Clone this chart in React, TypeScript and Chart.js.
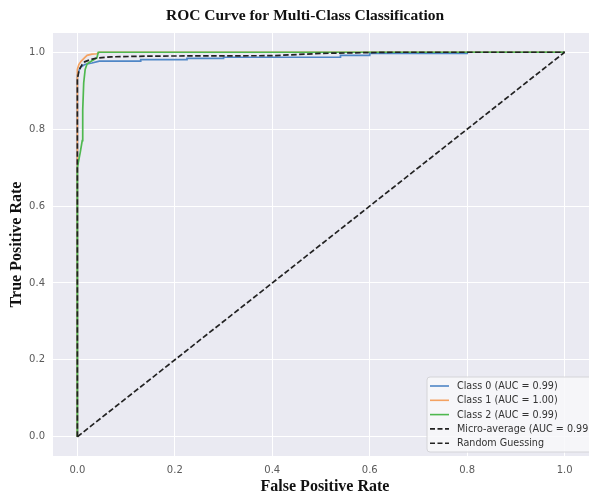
import React, { useEffect, useRef } from "react";
import { Chart, registerables } from "chart.js";

Chart.register(...registerables);

const class0Fpr = [0, 0, 0.004, 0.008, 0.015, 0.03, 0.045, 0.13, 0.13, 0.225, 0.225, 0.3, 0.3, 0.54, 0.54, 0.6, 0.6, 0.8, 0.8, 1.0];
const class0Tpr = [0, 0.94, 0.955, 0.962, 0.968, 0.972, 0.977, 0.977, 0.981, 0.981, 0.984, 0.984, 0.987, 0.987, 0.992, 0.992, 0.997, 0.997, 1.0, 1.0];

const class1Fpr = [0, 0, 0.003, 0.008, 0.015, 0.02, 0.03, 0.04, 0.045, 1.0];
const class1Tpr = [0, 0.955, 0.968, 0.977, 0.986, 0.992, 0.995, 0.996, 1.0, 1.0];

const class2Fpr = [0, 0, 0.006, 0.01, 0.011, 0.013, 0.016, 0.02, 0.03, 0.04, 0.043, 1.0];
const class2Tpr = [0, 0.7, 0.74, 0.77, 0.85, 0.92, 0.955, 0.97, 0.978, 0.985, 1.0, 1.0];

const microFpr = [0, 0, 0.003, 0.006, 0.01, 0.015, 0.025, 0.04, 0.07, 0.15, 0.4, 0.5, 0.65, 1.0];
const microTpr = [0, 0.93, 0.95, 0.96, 0.968, 0.975, 0.98, 0.985, 0.988, 0.99, 0.991, 0.997, 1.0, 1.0];

const randomFpr = [0, 1];
const randomTpr = [0, 1];

const xTicks = [0, 0.2, 0.4, 0.6, 0.8, 1.0];
const yTicks = [0, 0.2, 0.4, 0.6, 0.8, 1.0];

const legendLabels = [
  "Class 0 (AUC = 0.99)",
  "Class 1 (AUC = 1.00)",
  "Class 2 (AUC = 0.99)",
  "Micro-average (AUC = 0.99)",
  "Random Guessing",
];

const BLUE = "#4f86c6";
const ORANGE = "#f4a262";
const GREEN = "#4fb84f";
const BLACK = "#222222";

const pts = (xs: number[], ys: number[]) => xs.map((x, i) => ({ x, y: ys[i] }));

export default function App() {
  const ref = useRef<HTMLCanvasElement | null>(null);

  useEffect(() => {
    document.body.style.margin = "0";
    const canvas = ref.current;
    if (!canvas) return;

    const bgPlugin = {
      id: "bg",
      beforeDraw(chart: any) {
        const { ctx, chartArea } = chart;
        ctx.save();
        ctx.fillStyle = "#eaeaf2";
        ctx.fillRect(chartArea.left, chartArea.top, chartArea.right - chartArea.left, chartArea.bottom - chartArea.top);
        ctx.restore();
      },
    };

    const textPlugin = {
      id: "texts",
      afterDraw(chart: any) {
        const { ctx, chartArea } = chart;
        ctx.save();
        ctx.fillStyle = "#111";
        ctx.textAlign = "center";
        ctx.textBaseline = "middle";
        ctx.font = "bold 15.5px 'Liberation Serif', serif";
        ctx.fillText("ROC Curve for Multi-Class Classification", 305, 16);
        ctx.font = "bold 16px 'Liberation Serif', serif";
        ctx.fillText("False Positive Rate", 325, 487);
        ctx.save();
        ctx.translate(17, (chartArea.top + chartArea.bottom) / 2);
        ctx.rotate(-Math.PI / 2);
        ctx.fillText("True Positive Rate", 0, 0);
        ctx.restore();

        // legend
        const colors = [BLUE, ORANGE, GREEN, BLACK, BLACK];
        const dashed = [false, false, false, true, true];
        const bx = 427, by = 377, bw = 200, bh = 75;
        ctx.beginPath();
        const r = 3;
        ctx.moveTo(bx + r, by);
        ctx.lineTo(bx + bw, by);
        ctx.lineTo(bx + bw, by + bh);
        ctx.lineTo(bx + r, by + bh);
        ctx.arcTo(bx, by + bh, bx, by + bh - r, r);
        ctx.lineTo(bx, by + r);
        ctx.arcTo(bx, by, bx + r, by, r);
        ctx.closePath();
        ctx.fillStyle = "rgba(248,248,250,0.85)";
        ctx.fill();
        ctx.strokeStyle = "#d4d4d8";
        ctx.lineWidth = 1;
        ctx.stroke();
        ctx.font = "9.6px 'DejaVu Sans', sans-serif";
        ctx.textAlign = "left";
        legendLabels.forEach((lbl, i) => {
          const y = 386 + i * 14.3;
          ctx.beginPath();
          ctx.setLineDash(dashed[i] ? [5, 2.5] : []);
          ctx.strokeStyle = colors[i];
          ctx.lineWidth = 1.6;
          ctx.moveTo(430, y);
          ctx.lineTo(449, y);
          ctx.stroke();
          ctx.setLineDash([]);
          ctx.fillStyle = "#333";
          ctx.fillText(lbl, 457, y + 0.5);
        });
        ctx.restore();
      },
    };

    const mk = (label: string, xs: number[], ys: number[], color: string, dash: number[], order: number) => ({
      label,
      data: pts(xs, ys),
      showLine: true,
      borderColor: color,
      backgroundColor: color,
      borderWidth: 1.7,
      borderDash: dash,
      pointRadius: 0,
      pointHoverRadius: 0,
      tension: 0,
      fill: false,
      order,
    });

    const chart = new Chart(canvas, {
      type: "scatter",
      data: {
        datasets: [
          mk(legendLabels[0], class0Fpr, class0Tpr, BLUE, [], 5),
          mk(legendLabels[1], class1Fpr, class1Tpr, ORANGE, [], 4),
          mk(legendLabels[2], class2Fpr, class2Tpr, GREEN, [], 3),
          mk(legendLabels[3], microFpr, microTpr, BLACK, [5.5, 2.5], 2),
          mk(legendLabels[4], randomFpr, randomTpr, BLACK, [5.5, 2.5], 1),
        ] as any,
      },
      options: {
        animation: false,
        responsive: false,
        maintainAspectRatio: false,
        layout: { padding: { top: 33, left: 0, right: 0, bottom: 0 } },
        plugins: {
          legend: { display: false },
          title: { display: false },
          tooltip: { enabled: false },
        },
        scales: {
          x: {
            type: "linear",
            min: -0.05,
            max: 1.05,
            afterBuildTicks: (s: any) => {
              s.ticks = xTicks.map((v) => ({ value: v }));
            },
            afterFit: (s: any) => {
              s.height = 40;
            },
            grid: { color: "#ffffff", lineWidth: 1, drawTicks: false },
            border: { display: false },
            ticks: {
              padding: 8,
              color: "#5a5a5a",
              font: { family: "'DejaVu Sans', sans-serif", size: 10 },
              callback: (v: any) => Number(v).toFixed(1),
            },
          },
          y: {
            type: "linear",
            min: -0.05,
            max: 1.05,
            afterBuildTicks: (s: any) => {
              s.ticks = yTicks.map((v) => ({ value: v }));
            },
            afterFit: (s: any) => {
              s.width = 53;
            },
            grid: { color: "#ffffff", lineWidth: 1, drawTicks: false },
            border: { display: false },
            ticks: {
              padding: 8,
              color: "#5a5a5a",
              font: { family: "'DejaVu Sans', sans-serif", size: 10 },
              callback: (v: any) => Number(v).toFixed(1),
            },
          },
        },
      },
      plugins: [bgPlugin, textPlugin],
    });

    return () => chart.destroy();
  }, []);

  return (
    <div style={{ width: 589, height: 496, background: "#fff" }}>
      <canvas ref={ref} width={589} height={496} style={{ display: "block" }} />
    </div>
  );
}
